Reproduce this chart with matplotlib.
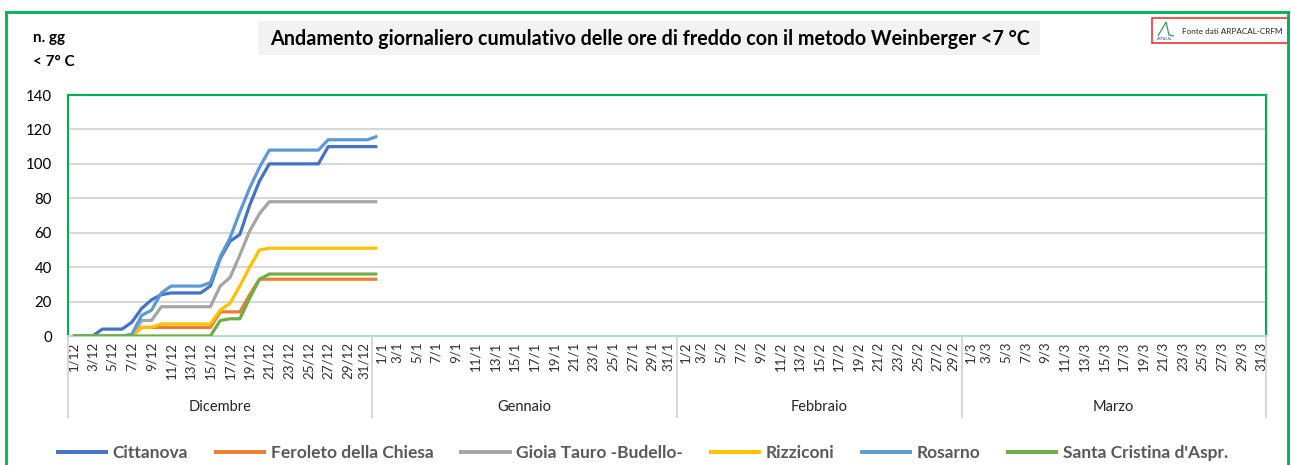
import numpy as np
import pandas as pd
import matplotlib
matplotlib.use("Agg")
import matplotlib.pyplot as plt
import matplotlib.transforms as mtransforms
from matplotlib.lines import Line2D
from matplotlib.patches import Rectangle, Polygon

plt.rcParams['font.family'] = ['Lato', 'DejaVu Sans']

# ---------------- data ----------------
dates = pd.date_range("2023-12-01", "2024-03-31", freq="D")
tick_labels = [f"{d.day}/{d.month}" for d in dates]
months = ["Dicembre", "Gennaio", "Febbraio", "Marzo"]
month_days = [31, 31, 29, 31]

series_names = ["Cittanova", "Feroleto della Chiesa", "Gioia Tauro -Budello-",
                "Rizziconi", "Rosarno", "Santa Cristina d'Aspr."]

# values from 1/12 to 1/1
cittanova = [0, 0, 0, 4, 4, 4, 8, 16, 21, 24, 25, 25, 25, 25, 29, 45,
             55, 59, 76, 90, 100, 100, 100, 100, 100, 100, 110, 110, 110, 110, 110, 110]
feroleto = [0, 0, 0, 0, 0, 0, 0, 5, 5, 5, 5, 5, 5, 5, 5, 14,
            14, 14, 24, 33, 33, 33, 33, 33, 33, 33, 33, 33, 33, 33, 33, 33]
gioia = [0, 0, 0, 0, 0, 0, 0, 9, 9, 17, 17, 17, 17, 17, 17, 29,
         34, 47, 61, 71, 78, 78, 78, 78, 78, 78, 78, 78, 78, 78, 78, 78]
rizziconi = [0, 0, 0, 0, 0, 0, 0, 5, 5, 7, 7, 7, 7, 7, 7, 15,
             19, 29, 40, 50, 51, 51, 51, 51, 51, 51, 51, 51, 51, 51, 51, 51]
rosarno = [0, 0, 0, 0, 0, 0, 1, 12, 15, 25, 29, 29, 29, 29, 31, 46,
           57, 72, 86, 98, 108, 108, 108, 108, 108, 108, 114, 114, 114, 114, 114, 116]
santa_cristina = [0, 0, 0, 0, 0, 0, 0, 0, 0, 0, 0, 0, 0, 0, 0, 9,
                  10, 10, 22, 33, 36, 36, 36, 36, 36, 36, 36, 36, 36, 36, 36, 36]

series_values = [cittanova, feroleto, gioia, rizziconi, rosarno, santa_cristina]
colors = ["#4472C4", "#ED7D31", "#A5A5A5", "#FFC000", "#5B9BD5", "#70AD47"]

y_ticks = [0, 20, 40, 60, 80, 100, 120, 140]

# ---------------- figure ----------------
W, H = 1291, 465
fig = plt.figure(figsize=(W / 100, H / 100), dpi=100)


def fx(px):
    return px / W


def fy(py):
    return 1 - py / H


ax = fig.add_axes([fx(68), fy(336), fx(1266) - fx(68), fy(95) - fy(336)])

n = len(dates)
for name, vals, c in zip(series_names, series_values, colors):
    ax.plot(np.arange(len(vals)), vals, color=c, lw=2.3, label=name,
            solid_joinstyle="round", solid_capstyle="butt", zorder=3)

ax.set_xlim(-0.5, n - 0.5)
ax.set_ylim(0, 140)
ax.set_yticks(y_ticks)
ax.yaxis.grid(True, color="#D9D9D9", lw=1.5)
ax.set_axisbelow(True)

xt = [i for i, d in enumerate(dates) if d.day % 2 == 1]
ax.set_xticks(xt)
ax.set_xticklabels([tick_labels[i] for i in xt], rotation=90, fontsize=9.6,
                   color="#303030")
ax.tick_params(axis="x", length=0, pad=4)
ax.tick_params(axis="y", length=0, pad=11.5, labelsize=10.8, colors="#000000")

# nudge labels at month boundaries apart (as in the reference)
month_starts = set(np.cumsum([0] + month_days[:-1]).tolist())
month_ends = set((np.cumsum(month_days) - 1).tolist())
for i, lab in zip(xt, ax.get_xticklabels()):
    dx = 0
    if i in month_starts and i != 0:
        dx = 4
    elif i in month_ends and i != n - 1:
        dx = -4
    if dx:
        off = mtransforms.ScaledTranslation(dx / 100, 0, fig.dpi_scale_trans)
        lab.set_transform(lab.get_transform() + off)

for s in ["top", "left", "right"]:
    ax.spines[s].set_color("#00B050")
    ax.spines[s].set_linewidth(1.5)
ax.spines["bottom"].set_color("#B6DEC4")
ax.spines["bottom"].set_linewidth(1.5)

# month group labels and separators
xtr = ax.get_xaxis_transform()
start = 0
bounds = [-0.5]
for m, nd in zip(months, month_days):
    center = start + nd / 2 - 0.5
    ax.text(center, (336 - 407) / 241, m, transform=xtr, ha="center",
            va="center", fontsize=10.5, color="#262626")
    start += nd
    bounds.append(start - 0.5)
for b in bounds:
    ax.plot([b, b], [0, (336 - 417) / 241], transform=xtr, color="#D9D9D9",
            lw=1.5, clip_on=False, zorder=1)

# outer green frame
for (x0, y0, x1, y1) in [(6, 12, 1288, 12), (6, 12, 6, 470), (1288, 12, 1288, 470)]:
    fig.add_artist(Line2D([fx(x0), fx(x1)], [fy(y0), fy(y1)], color="#00B050",
                          lw=2.0, transform=fig.transFigure))

# title box
fig.add_artist(Rectangle((fx(258), fy(55)), fx(1040) - fx(258), fy(21) - fy(55),
                         transform=fig.transFigure, facecolor="#F2F2F2",
                         edgecolor="none"))
fig.text(fx(650), fy(39), "Andamento giornaliero cumulativo delle ore di freddo con il metodo Weinberger <7 °C",
         ha="center", va="center", fontsize=14.2, fontweight="bold", color="#000000")

# y-axis label
fig.text(fx(33), fy(38), "n. gg", ha="left", va="center", fontsize=11,
         fontweight="bold", color="#000000")
fig.text(fx(33), fy(62), "< 7° C", ha="left", va="center", fontsize=11,
         fontweight="bold", color="#000000")

# source box
fig.add_artist(Rectangle((fx(1152), fy(43)), fx(1288) - fx(1152), fy(18) - fy(43),
                         transform=fig.transFigure, facecolor="white",
                         edgecolor="#E53935", lw=1.2))
fig.add_artist(Polygon([[fx(1158), fy(36)], [fx(1166), fy(22)], [fx(1169), fy(35)],
                        [fx(1174), fy(36)]], closed=False, fill=False,
                       edgecolor="#2E9E5B", lw=0.9, transform=fig.transFigure))
fig.text(fx(1165), fy(39.5), "ARPACAL", ha="center", va="center", fontsize=2.5,
         color="#1F4E9E")
fig.text(fx(1182), fy(31), "Fonte dati ARPACAL-CRFM", ha="left", va="center",
         fontsize=5.9, color="#262626")

# legend
leg = fig.legend(loc="center", bbox_to_anchor=(fx(642), fy(453)), ncol=6,
                 frameon=False, fontsize=12.5, handlelength=3.0,
                 handletextpad=0.25, columnspacing=1.5)
for t in leg.get_texts():
    t.set_color("#595959")
    t.set_fontweight("bold")
for l in leg.get_lines():
    l.set_linewidth(2.8)

fig.savefig("out.png", dpi=100)
